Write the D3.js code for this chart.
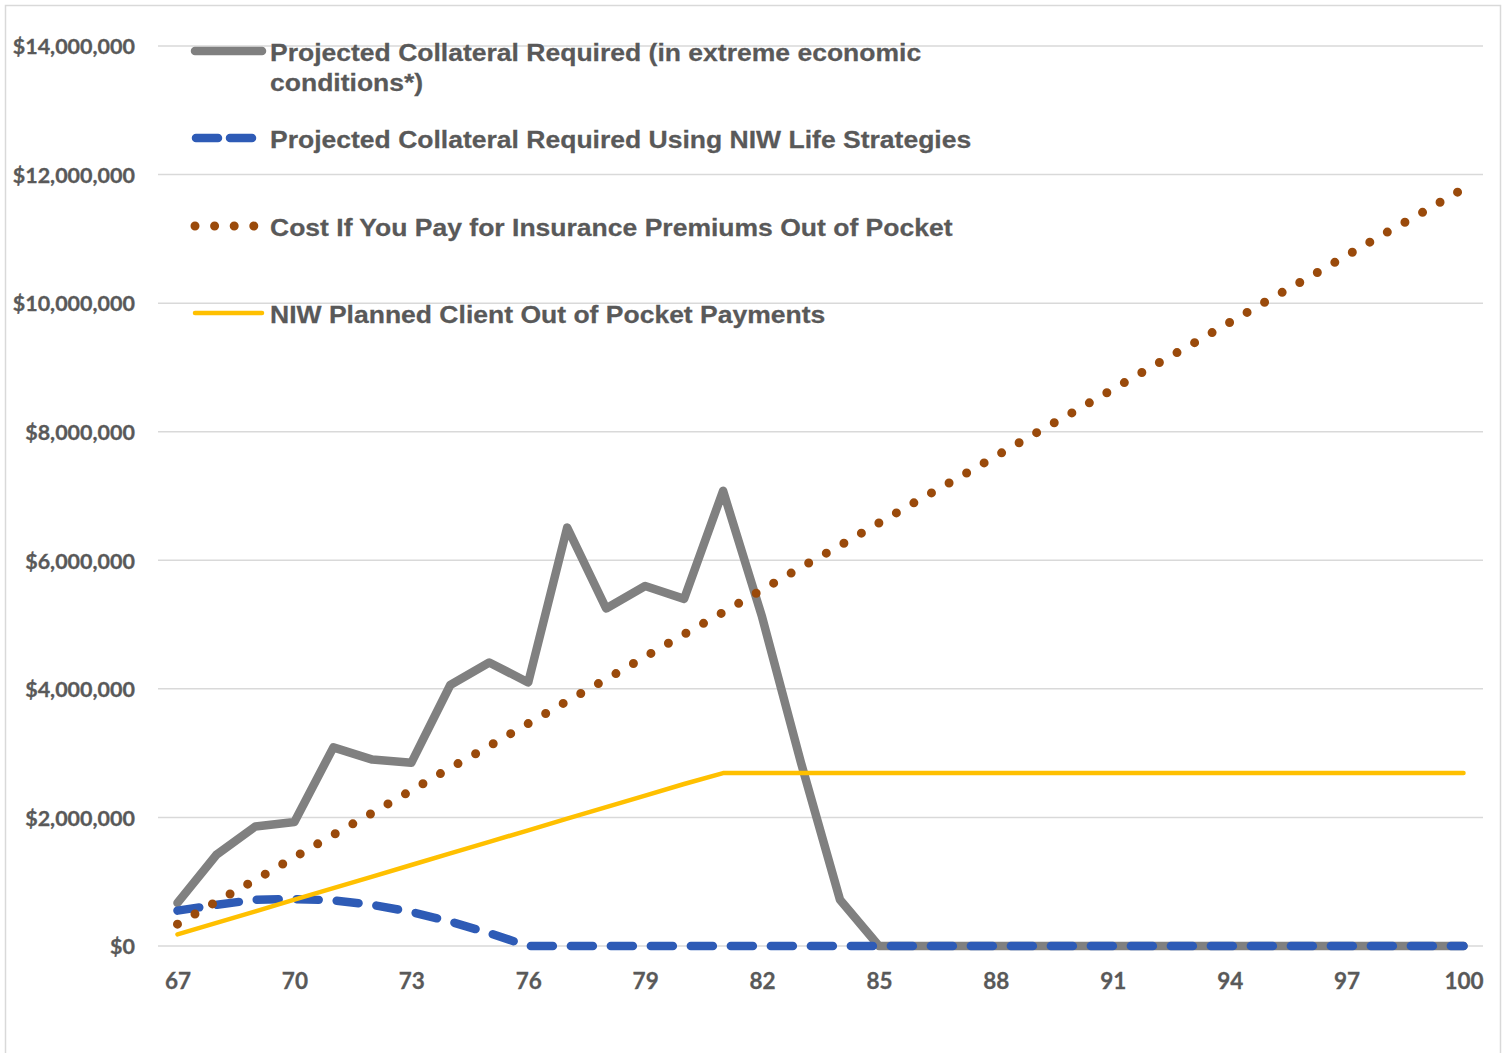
<!DOCTYPE html>
<html>
<head>
<meta charset="utf-8">
<script src="https://cdn.jsdelivr.net/npm/d3@7"></script>
<style>
  html, body { margin: 0; padding: 0; background: #ffffff; }
  svg { display: block; }
</style>
</head>
<body>
<div id="chart"></div>
<script>
// ---------- DATA ----------
const ages = [67,68,69,70,71,72,73,74,75,76,77,78,79,80,81,82,83,84,85,86,87,88,89,90,91,92,93,94,95,96,97,98,99,100];
const xTickLabels = [67,70,73,76,79,82,85,88,91,94,97,100];
const yTickValues = [0,2000000,4000000,6000000,8000000,10000000,12000000,14000000];

const collateralExtreme = [670000,1420000,1860000,1930000,3090000,2900000,2850000,4060000,4410000,4100000,6510000,5250000,5600000,5400000,7080000,5120000,2850000,720000,0,0,0,0,0,0,0,0,0,0,0,0,0,0,0,0];
const collateralNIW = [550000,640000,720000,730000,710000,640000,530000,380000,200000,0,0,0,0,0,0,0,0,0,0,0,0,0,0,0,0,0,0,0,0,0,0,0,0,0];
const costOutOfPocket = [340000,690000,1030000,1380000,1730000,2070000,2420000,2770000,3110000,3460000,3810000,4150000,4500000,4850000,5190000,5540000,5890000,6230000,6580000,6930000,7270000,7620000,7970000,8310000,8660000,9010000,9350000,9700000,10050000,10390000,10740000,11090000,11430000,11780000];
const niwPlanned = [180000,360000,540000,720000,900000,1080000,1260000,1440000,1620000,1800000,1980000,2160000,2340000,2520000,2690000,2690000,2690000,2690000,2690000,2690000,2690000,2690000,2690000,2690000,2690000,2690000,2690000,2690000,2690000,2690000,2690000,2690000,2690000,2690000];

const seriesNames = [
  ["Projected Collateral Required (in extreme economic", "conditions*)"],
  ["Projected Collateral Required Using NIW Life Strategies"],
  ["Cost If You Pay for Insurance Premiums Out of Pocket"],
  ["NIW Planned Client Out of Pocket Payments"]
];

// ---------- LAYOUT ----------
const W = 1504, H = 1053;
const plot = { left: 158, right: 1483, top: 46, bottom: 946 };

const svg = d3.select("#chart").append("svg")
  .attr("width", W).attr("height", H);

svg.append("rect").attr("width", W).attr("height", H).attr("fill", "#ffffff");
// chart border
svg.append("rect")
  .attr("x", 5.5).attr("y", 5.5).attr("width", 1495).attr("height", 1070)
  .attr("fill", "none").attr("stroke", "#d9d9d9").attr("stroke-width", 1.5);

const x = d3.scalePoint().domain(ages).range([plot.left, plot.right]).padding(0.5);
const y = d3.scaleLinear().domain([0, 14000000]).range([plot.bottom, plot.top]);

// gridlines
svg.append("g").selectAll("line").data(yTickValues).join("line")
  .attr("x1", plot.left).attr("x2", plot.right)
  .attr("y1", d => y(d)).attr("y2", d => y(d))
  .attr("stroke", "#d9d9d9").attr("stroke-width", 1.5);

// y axis labels
const yAxis = d3.axisLeft(y).tickValues(yTickValues).tickSize(0).tickPadding(0)
  .tickFormat(d => "$" + d3.format(",")(d));
const gy = svg.append("g").attr("transform", `translate(135,0)`).call(yAxis);
gy.select(".domain").remove();
gy.selectAll("text")
  .attr("font-family", "Lato, 'Open Sans', sans-serif")
  .attr("font-weight", 700).attr("font-size", 21.5).attr("fill", "#595959")
  .attr("stroke", "#595959").attr("stroke-width", 0.3)
  .attr("dy", "0.36em");

// x axis labels
const xAxis = d3.axisBottom(x).tickValues(xTickLabels).tickSize(0).tickPadding(0);
const gx = svg.append("g").attr("transform", `translate(0,${plot.bottom})`).call(xAxis);
gx.select(".domain").remove();
gx.selectAll("text")
  .attr("font-family", "Lato, 'Open Sans', sans-serif")
  .attr("font-weight", 700).attr("font-size", 22.5).attr("fill", "#595959")
  .attr("stroke", "#595959").attr("stroke-width", 0.3)
  .attr("dy", 0).attr("y", 43);

// lines
const line = d3.line().x((d, i) => x(ages[i])).y(d => y(d));

const styles = [
  { data: collateralExtreme, color: "#808080", width: 8.5, dash: null, cap: "round" },
  { data: collateralNIW, color: "#2e5bb6", width: 8.5, dash: "22,18", cap: "round" },
  { data: costOutOfPocket, color: "#9a4a0b", width: 9, dash: "0,20.2", cap: "round" },
  { data: niwPlanned, color: "#ffc000", width: 4.5, dash: null, cap: "round" }
];

styles.forEach(s => {
  svg.append("path").datum(s.data)
    .attr("d", line)
    .attr("fill", "none")
    .attr("stroke", s.color)
    .attr("stroke-width", s.width)
    .attr("stroke-linejoin", "round")
    .attr("stroke-linecap", s.cap)
    .attr("stroke-dasharray", s.dash);
});

// legend
const legendY = [51, 138, 226, 313];
const leg = svg.append("g");
styles.forEach((s, i) => {
  const g = leg.append("g").attr("transform", `translate(0,${legendY[i]})`);
  if (i === 2) {
    g.append("line").attr("x1", 195).attr("x2", 256).attr("y1", 0).attr("y2", 0)
      .attr("stroke", s.color).attr("stroke-width", 9)
      .attr("stroke-linecap", "round").attr("stroke-dasharray", "0,19.6");
  } else if (i === 1) {
    g.append("line").attr("x1", 196).attr("x2", 256).attr("y1", 0).attr("y2", 0)
      .attr("stroke", s.color).attr("stroke-width", 8.5)
      .attr("stroke-linecap", "round").attr("stroke-dasharray", "22,12");
  } else {
    g.append("line").attr("x1", 195).attr("x2", 262).attr("y1", 0).attr("y2", 0)
      .attr("stroke", s.color).attr("stroke-width", i === 0 ? 8.5 : 4.5)
      .attr("stroke-linecap", "round");
  }
  const t = g.append("text")
    .attr("transform", "translate(270,0) scale(1.105,1)")
    .attr("font-family", "'Liberation Sans', Arial, sans-serif")
    .attr("font-weight", 700).attr("font-size", 24).attr("fill", "#595959")
    .attr("stroke", "#595959").attr("stroke-width", 0.25);
  seriesNames[i].forEach((ln, j) => {
    t.append("tspan").attr("x", 0).attr("y", 9.5 + j * 30.5).text(ln);
  });
});
</script>
</body>
</html>
